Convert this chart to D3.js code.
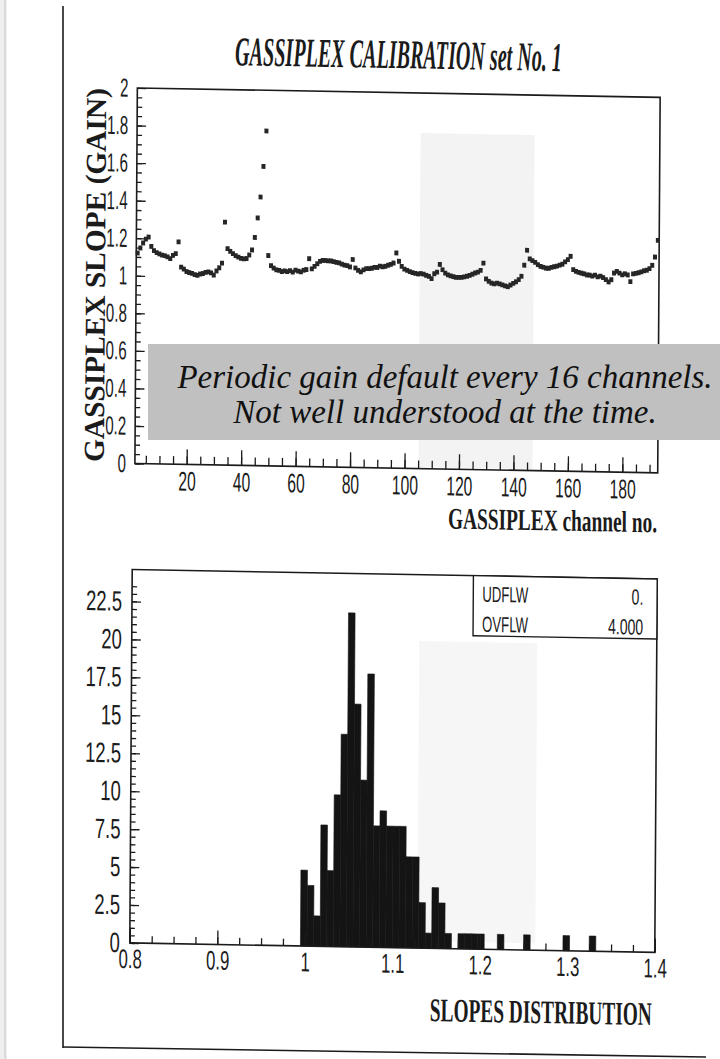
<!DOCTYPE html>
<html><head><meta charset="utf-8">
<script src="https://cdn.jsdelivr.net/npm/d3@7"></script>
<style>html,body{margin:0;padding:0;background:#fff;}svg{display:block}</style>
</head><body>
<svg id="chart" width="720" height="1059"></svg>
<script>
// ---------- data ----------
const channelGain = [
  1.121,1.148,1.175,1.196,1.207,1.157,1.135,1.125,1.118,1.112,1.109,1.103,1.094,1.112,1.121,1.184,
  1.050,1.040,1.027,1.022,1.018,1.011,1.008,1.015,1.018,1.024,1.027,1.022,1.011,1.033,1.050,1.075,
  1.294,1.153,1.139,1.127,1.116,1.109,1.102,1.100,1.102,1.121,1.148,1.215,1.319,1.431,1.594,1.783,
  1.120,1.066,1.054,1.045,1.042,1.036,1.040,1.036,1.042,1.034,1.045,1.040,1.036,1.045,1.049,1.107,
  1.053,1.067,1.081,1.094,1.099,1.099,1.097,1.097,1.094,1.090,1.088,1.081,1.076,1.074,1.067,1.107,
  1.062,1.050,1.042,1.053,1.060,1.060,1.062,1.067,1.067,1.074,1.071,1.074,1.080,1.085,1.092,1.146,
  1.102,1.075,1.061,1.054,1.048,1.043,1.039,1.036,1.039,1.036,1.030,1.025,1.013,1.039,1.048,1.089,
  1.061,1.043,1.034,1.029,1.025,1.022,1.022,1.022,1.025,1.029,1.034,1.040,1.047,1.052,1.061,1.100,
  1.016,1.004,0.995,0.991,0.995,0.991,0.986,0.981,0.977,0.986,0.995,1.004,1.016,1.034,1.093,1.173,
  1.127,1.118,1.109,1.097,1.088,1.084,1.079,1.079,1.084,1.088,1.091,1.097,1.102,1.115,1.127,1.145,
  1.074,1.065,1.060,1.056,1.053,1.047,1.047,1.042,1.047,1.038,1.042,1.035,1.024,1.012,1.024,1.060,
  1.069,1.060,1.051,1.057,1.051,1.016,1.057,1.060,1.064,1.069,1.075,1.078,1.087,1.105,1.149,1.238
];
const gainTickValues = [0,0.2,0.4,0.6,0.8,1,1.2,1.4,1.6,1.8,2];
const channelTickValues = [20,40,60,80,100,120,140,160,180];

// 80 bins from 0.8 to 1.4
const slopeBinCounts = [
  0,0,0,0,0,0,0,0,0,0, 0,0,0,0,0,0,0,0,0,0, 0,0,0,0,0,0,
  5,4,2,8,5,10,14,22,16,11,18,8,9,8,8,8,6,6,3,1,4,3,1,
  0,1,1,1,1,0,0,1,0,0,0,1,0,0,0,0,0,1,0,0,0,1,
  0,0,0,0,0,0,0,0,0
];
const slopeRange = [0.8, 1.4];
const slopeTickValues = [0.8,0.9,1,1.1,1.2,1.3,1.4];
const countTickValues = [0,2.5,5,7.5,10,12.5,15,17.5,20,22.5];
const statLabels = ["UDFLW","OVFLW"];
const statValues = ["0.","4.000"];
const noteLines = ["Periodic gain default every 16 channels.","Not well understood at the time."];

// ---------- drawing ----------
const svg = d3.select("#chart");
const INK = "#1b1b1b";
const SANS = "'Liberation Sans', Arial, sans-serif";
const SERIF = "'Liberation Serif', 'Times New Roman', serif";

// squeeze text horizontally around its anchor point (condensed scan fonts)
function condense(sel, f) {
  sel.each(function () {
    const x = +this.getAttribute("x") || 0;
    const y = +this.getAttribute("y") || 0;
    this.setAttribute("x", 0);
    this.setAttribute("y", 0);
    this.setAttribute("transform", `translate(${x},${y}) scale(${f},1)`);
  });
}
function fitText(parent, x, y, str, width, attrs, rotate) {
  const t = parent.append("text").attr("x", 0).attr("y", 0).text(str);
  Object.entries(attrs).forEach(([k, v]) => t.attr(k, v));
  const L = t.node().getComputedTextLength();
  const f = width / L;
  t.attr("transform", `translate(${x},${y})${rotate ? ` rotate(${rotate})` : ""} scale(${f.toFixed(4)},1)`);
  return t;
}

// page edge of the scan
svg.append("rect").attr("x", 0).attr("y", 0).attr("width", 7).attr("height", 1059).attr("fill", "#efefef");
svg.append("line").attr("x1", 5).attr("x2", 5).attr("y1", 0).attr("y2", 1059).attr("stroke", "#d4d4d4").attr("stroke-width", 1.5);
svg.append("line").attr("x1", 63).attr("x2", 63).attr("y1", 6).attr("y2", 1048).attr("stroke", INK).attr("stroke-width", 1.6);
svg.append("line").attr("x1", 63).attr("x2", 706).attr("y1", 1047).attr("y2", 1057).attr("stroke", INK).attr("stroke-width", 1.6);

// the scanned page is slightly skewed
const page = svg.append("g").attr("transform", "matrix(1,0.018,-0.0065,1,3.445,-6.48)");

// ----- title -----
fitText(page, 232, 67.5, "GASSIPLEX CALIBRATION set No. 1", 327,
  { "font-family": SERIF, "font-weight": "bold", "font-style": "italic", "font-size": 41, fill: INK });

// ===== top chart: gain vs channel =====
const xTop = d3.scaleLinear().domain([1, 193]).range([134.5, 657.3]);
const yTop = d3.scaleLinear().domain([0, 2]).range([467.5, 92]);
const topG = page.append("g");

// faint bleed-through from the back of the page
topG.append("rect").attr("x", 418).attr("y", 132).attr("width", 114).attr("height", 334).attr("fill", "#f3f3f3");

function styleAxis(g, size) {
  g.select(".domain").remove();
  g.selectAll("line").attr("stroke", INK).attr("stroke-width", 1.3);
  g.selectAll("text").attr("font-family", SANS).attr("font-size", size || 10).attr("fill", INK);
}

topG.append("g").attr("transform", `translate(0,${yTop(0)})`)
  .call(d3.axisBottom(xTop).tickValues(d3.range(5, 193, 5)).tickSize(-8).tickFormat(""))
  .call(g => styleAxis(g));
topG.append("g").attr("transform", `translate(0,${yTop(0)})`)
  .call(d3.axisBottom(xTop).tickValues(channelTickValues).tickSize(-15).tickPadding(7).tickFormat(d3.format("d")))
  .call(g => styleAxis(g, 27))
  .selectAll("text").call(condense, 0.58);

topG.append("g").attr("transform", `translate(${xTop(1)},0)`)
  .call(d3.axisLeft(yTop).tickValues(d3.range(0, 40).map(i => i * 0.05)).tickSize(-5).tickFormat(""))
  .call(g => styleAxis(g));
topG.append("g").attr("transform", `translate(${xTop(1)},0)`)
  .call(d3.axisLeft(yTop).tickValues(gainTickValues).tickSize(-9).tickPadding(9).tickFormat(d3.format("~g")))
  .call(g => styleAxis(g, 26))
  .selectAll("text").call(condense, 0.58);

topG.append("rect").attr("x", xTop(1)).attr("y", yTop(2))
  .attr("width", xTop(193) - xTop(1)).attr("height", yTop(0) - yTop(2))
  .attr("fill", "none").attr("stroke", INK).attr("stroke-width", 1.6);

topG.append("g").selectAll("rect").data(channelGain).join("rect")
  .attr("x", (d, i) => xTop(i + 1.5) - 2)
  .attr("y", d => yTop(d) - 2.4)
  .attr("width", 4).attr("height", 4.8)
  .attr("fill", "#262626");

// axis titles
fitText(page, 103.4, 279.8, "GASSIPLEX SLOPE (GAIN)", 374,
  { "text-anchor": "middle", "font-family": SERIF, "font-weight": "bold", "font-size": 29, fill: INK }, -90);
fitText(page, 448, 527, "GASSIPLEX channel no.", 209,
  { "font-family": SERIF, "font-weight": "bold", "font-size": 30, fill: INK });

// ===== histogram: slopes distribution =====
const xH = d3.scaleLinear().domain(slopeRange).range([132.5, 657.5]);
const yH = d3.scaleLinear().domain([0, 24.6]).range([947, 573.6]);
const hG = page.append("g");
hG.append("rect").attr("x", 420).attr("y", 640).attr("width", 118).attr("height", 300).attr("fill", "#f6f6f6");

const binW = (slopeRange[1] - slopeRange[0]) / slopeBinCounts.length;
hG.append("g").selectAll("rect")
  .data(slopeBinCounts.map((c, i) => ({ c, lo: slopeRange[0] + i * binW, hi: slopeRange[0] + (i + 1) * binW })).filter(d => d.c > 0))
  .join("rect")
  .attr("x", d => xH(d.lo)).attr("width", d => xH(d.hi) - xH(d.lo))
  .attr("y", d => yH(d.c)).attr("height", d => yH(0) - yH(d.c))
  .attr("fill", "#141414").attr("stroke", "#141414").attr("stroke-width", 0.6);

hG.append("g").attr("transform", `translate(0,${yH(0)})`)
  .call(d3.axisBottom(xH).tickValues(d3.range(0, 25).map(i => 0.8 + i * 0.025)).tickSize(-7).tickFormat(""))
  .call(g => styleAxis(g));
hG.append("g").attr("transform", `translate(0,${yH(0)})`)
  .call(d3.axisBottom(xH).tickValues(slopeTickValues).tickSize(-14).tickPadding(6).tickFormat(d3.format("~g")))
  .call(g => styleAxis(g, 27))
  .selectAll("text").call(condense, 0.62);

hG.append("g").attr("transform", `translate(${xH(0.8)},0)`)
  .call(d3.axisLeft(yH).tickValues(d3.range(0, 48).map(i => i * 0.5)).tickSize(-5).tickFormat(""))
  .call(g => styleAxis(g));
hG.append("g").attr("transform", `translate(${xH(0.8)},0)`)
  .call(d3.axisLeft(yH).tickValues(countTickValues).tickSize(-9).tickPadding(10).tickFormat(d3.format("~g")))
  .call(g => styleAxis(g, 28))
  .selectAll("text").call(condense, 0.66);

hG.append("rect").attr("x", xH(0.8)).attr("y", yH(24.6))
  .attr("width", xH(1.4) - xH(0.8)).attr("height", yH(0) - yH(24.6))
  .attr("fill", "none").attr("stroke", INK).attr("stroke-width", 1.6);

// statistics box
const boxX = 473.7, boxY = yH(24.6), boxH = 60.1;
hG.append("rect").attr("x", boxX).attr("y", boxY).attr("width", xH(1.4) - boxX).attr("height", boxH)
  .attr("fill", "#fff").attr("stroke", INK).attr("stroke-width", 1.4);
statLabels.forEach((lab, i) => {
  hG.append("text").attr("x", boxX + 9).attr("y", boxY + 26 + i * 30)
    .attr("font-family", SANS).attr("font-size", 22).attr("fill", INK).text(lab)
    .call(condense, 0.6);
  hG.append("text").attr("x", 643.8).attr("y", boxY + 26 + i * 30).attr("text-anchor", "end")
    .attr("font-family", SANS).attr("font-size", 22).attr("fill", INK).text(statValues[i])
    .call(condense, 0.64);
});

fitText(page, 433, 1019.8, "SLOPES DISTRIBUTION", 222,
  { "font-family": SERIF, "font-weight": "bold", "font-size": 33, fill: INK });

// ===== annotation overlay (added on top of the scan) =====
svg.append("rect").attr("x", 148).attr("y", 344).attr("width", 572).attr("height", 96).attr("fill", "#c0c0c0");
noteLines.forEach((t, i) => {
  svg.append("text").attr("x", 445).attr("y", 388 + i * 34.5)
    .attr("text-anchor", "middle")
    .attr("font-family", SERIF).attr("font-style", "italic").attr("font-size", 33).attr("fill", "#111")
    .text(t);
});
</script>
</body></html>
